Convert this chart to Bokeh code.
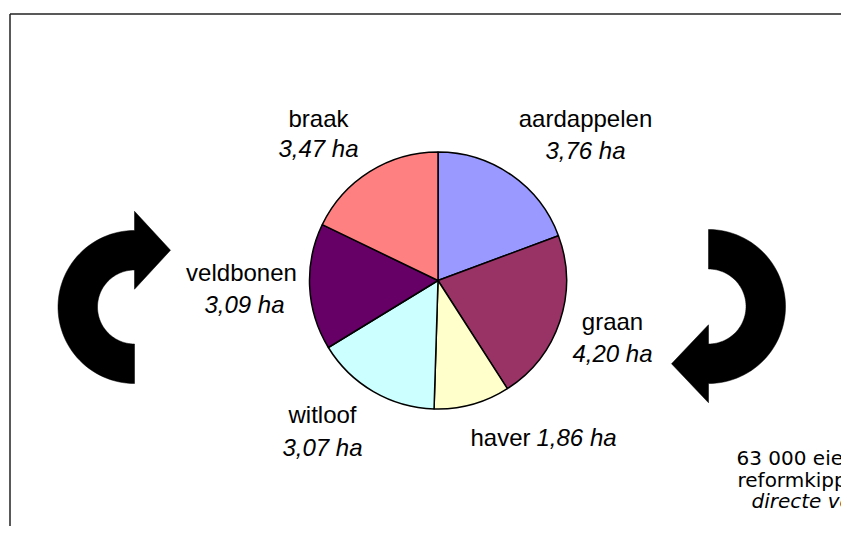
import numpy as np
from bokeh.plotting import figure
from bokeh.models import Range1d, ColumnDataSource
from bokeh.core.properties import value
from bokeh.embed import file_html
from bokeh.resources import INLINE

# ---- data ----
crops = ["aardappelen", "graan", "haver", "witloof", "veldbonen", "braak"]
areas_ha = [3.76, 4.20, 1.86, 3.07, 3.09, 3.47]
colors = ["#9999FF", "#993366", "#FFFFCC", "#CCFFFF", "#660066", "#FF8080"]
note_lines = ["63 000 eieren", "reformkippen", "directe verkoop"]

W, H = 841, 526
PAGE_H = 542


def Y(y_img):
    return PAGE_H - y_img


p = figure(width=W, height=H, output_backend="svg", toolbar_location=None,
           x_range=Range1d(0, W), y_range=Range1d(PAGE_H - H, PAGE_H),
           x_axis_type=None, y_axis_type=None, min_border=0)
p.outline_line_color = None
p.xgrid.visible = False
p.ygrid.visible = False
p.background_fill_color = "white"
p.border_fill_color = "white"

# frame (left and top border)
p.segment(x0=[9.5, 9.5], y0=[Y(13.5), Y(13.5)], x1=[9.5, W + 0.5], y1=[Y(H), Y(13.5)],
          line_color="#222222", line_width=1.5)

# ---- pie ----
cx, cy, rad = 437.5, Y(280), 128.5
vals = np.array(areas_ha)
cum = np.concatenate([[0], np.cumsum(vals) / vals.sum()])
start = np.pi / 2 - cum[1:] * 2 * np.pi
end = np.pi / 2 - cum[:-1] * 2 * np.pi
src = ColumnDataSource(dict(start=start, end=end, color=colors, crop=crops))
p.wedge(x=cx, y=cy, radius=rad, start_angle="start", end_angle="end",
        fill_color="color", line_color="black", line_width=1.5, source=src)

# ---- labels ----
value_labels = [f"{v:.2f}".replace(".", ",") + " ha" for v in areas_ha]
name_pos = {"aardappelen": (585, 118), "graan": (612, 321), "witloof": (322, 414),
            "veldbonen": (241, 272), "braak": (318, 118)}
val_pos = {"aardappelen": (585, 150), "graan": (612, 353), "witloof": (322, 447),
           "veldbonen": (244, 304), "braak": (318, 148)}
FONT = value("Liberation Sans")
FS = "24px"
for c, vl in zip(crops, value_labels):
    if c in name_pos:
        x, y = name_pos[c]
        p.text([x], [Y(y)], text=[c], text_font=FONT, text_font_size=FS,
               text_align="center", text_baseline="middle", text_color="black")
        x, y = val_pos[c]
        p.text([x], [Y(y)], text=[vl], text_font=FONT, text_font_size=FS,
               text_font_style="italic", text_align="center", text_baseline="middle",
               text_color="black")
    else:
        p.text([470], [Y(437)], text=[c], text_font=FONT, text_font_size=FS,
               text_align="left", text_baseline="middle", text_color="black")
        p.text([536], [Y(437)], text=[vl], text_font=FONT, text_font_size=FS,
               text_font_style="italic", text_align="left", text_baseline="middle",
               text_color="black")

# ---- note (cut off at right edge, as in the original) ----
NFONT = value("DejaVu Sans")
note_x = [736, 737, 751]
note_y = [457, 479, 500]
for i, (t, x, y) in enumerate(zip(note_lines, note_x, note_y)):
    p.text([x], [Y(y)], text=[t], text_font=NFONT, text_font_size="20px",
           text_font_style="italic" if i == 2 else "normal",
           text_align="left", text_baseline="alphabetic", text_color="black")


# ---- curved arrows (decoration) ----
def arrow_shape(R, r, head_half, tip):
    a1 = np.linspace(np.pi / 2, 3 * np.pi / 2, 60)
    a2 = a1[::-1]
    xs = list(R * np.cos(a1)) + list(r * np.cos(a2))
    ys = list(R * np.sin(a1)) + list(r * np.sin(a2))
    mid = (R + r) / 2
    xs += [0, 0, tip, 0]
    ys += [mid - head_half, mid - head_half, mid, mid + head_half]
    return np.array(xs), np.array(ys)


ax, ay = arrow_shape(76.5, 37, 39, 36)
p.patch(134 + ax, Y(306.5) + ay, fill_color="black", line_color="black", line_width=0.5)
bx, by = arrow_shape(77, 37.5, 39, 37)
p.patch(708 - bx, Y(306) - by, fill_color="black", line_color="black", line_width=0.5)

open("out.html", "w").write(file_html(p, INLINE))
